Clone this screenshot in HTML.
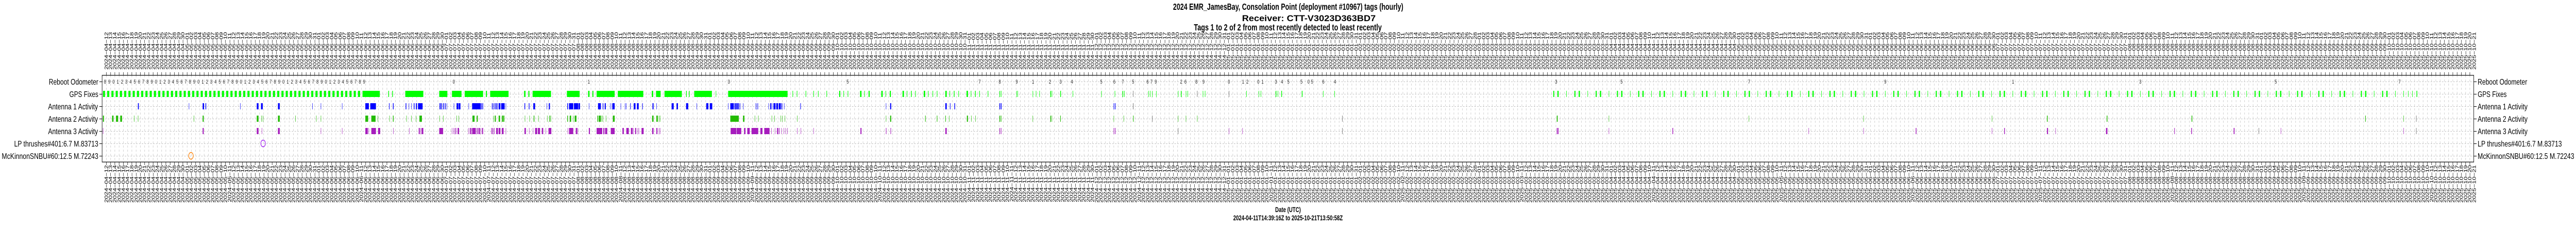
<!DOCTYPE html>
<html><head><meta charset="utf-8">
<style>
html,body{margin:0;padding:0;background:#fff;overflow:hidden;}
svg{position:fixed;left:0;top:0;width:100vw;height:100vh;display:block;}
.g rect{y:176px;height:12px;}
.a1 rect{y:200px;height:12px;}
.a2 rect{y:224px;height:12px;}
.a3 rect{y:248px;height:12px;}
</style></head><body>
<svg viewBox="0 0 7284 438" preserveAspectRatio="none" xmlns="http://www.w3.org/2000/svg">
<defs>
<pattern id="vg" patternUnits="userSpaceOnUse" x="300.2" y="146" width="12.02" height="8"><line x1="0.5" y1="0" x2="0.5" y2="4" stroke="#bebebe" stroke-width="1"/></pattern>
<pattern id="tk" patternUnits="userSpaceOnUse" x="300.2" y="0" width="12.02" height="438"><line x1="0.5" y1="0" x2="0.5" y2="438" stroke="#000" stroke-width="1"/></pattern>
<pattern id="pa" patternUnits="userSpaceOnUse" x="291" y="176" width="12.02" height="12"><rect x="0" y="0" width="6" height="12" fill="#00ff00"/></pattern>
<pattern id="pb" patternUnits="userSpaceOnUse" x="4512" y="176" width="60.1" height="12"><rect x="0" y="0" width="3" height="12" fill="#00ff00"/><rect x="12" y="0" width="3.5" height="12" fill="#00ff00"/><rect x="37" y="0" width="1.2" height="12" fill="#00ff00"/></pattern>
</defs>
<rect x="0" y="0" width="7284" height="438" fill="#fff"/>
<g font-family="Liberation Sans, sans-serif" font-weight="bold" font-size="18">
<text x="3317" y="19" textLength="651" lengthAdjust="spacingAndGlyphs">2024 EMR_JamesBay, Consolation Point (deployment #10967) tags (hourly)</text>
<text x="3512" y="41" font-size="17" textLength="378" lengthAdjust="spacingAndGlyphs">Receiver: CTT-V3023D363BD7</text>
<text x="3376" y="59" textLength="531" lengthAdjust="spacingAndGlyphs">Tags 1 to 2 of 2 from most recently detected to least recently</text>
</g>
<g font-family="Liberation Sans, sans-serif" font-weight="bold" font-size="14" text-anchor="middle">
<text x="3642" y="411">Date (UTC)</text>
<text x="3642" y="427">2024-04-11T14:39:16Z to 2025-10-21T13:50:58Z</text>
</g>
<rect x="288.7" y="146" width="6706.3" height="168" fill="url(#vg)"/>
<g stroke="#bebebe" stroke-dasharray="4 4" stroke-width="1">
<line x1="289" y1="158.5" x2="6995" y2="158.5"/>
<line x1="289" y1="182.5" x2="6995" y2="182.5"/>
<line x1="289" y1="206.5" x2="6995" y2="206.5"/>
<line x1="289" y1="230.5" x2="6995" y2="230.5"/>
<line x1="289" y1="254.5" x2="6995" y2="254.5"/>
<line x1="289" y1="278.5" x2="6995" y2="278.5"/>
<line x1="289" y1="302.5" x2="6995" y2="302.5"/>
</g>
<rect x="295" y="140" width="6695" height="6" fill="url(#tk)"/>
<rect x="295" y="314" width="6695" height="6" fill="url(#tk)"/>
<rect x="291" y="176" width="731" height="12" fill="url(#pa)"/>
<rect x="4392" y="176" width="2398" height="12" fill="url(#pb)"/>
<g class="g" fill="#00ff00">
<rect x="1025" width="49"/><rect x="1098" width="2"/><rect x="1109" width="2"/><rect x="1146" width="51"/><rect x="1242" width="23"/><rect x="1278" width="27"/><rect x="1314" width="52"/><rect x="1374" width="3"/><rect x="1386" width="52"/><rect x="1482" width="4"/><rect x="1494" width="3"/><rect x="1506" width="52"/><rect x="1603" width="36"/><rect x="1663" width="4"/><rect x="1675" width="3"/><rect x="1687" width="51"/><rect x="1747" width="72"/><rect x="1843" width="4"/><rect x="1855" width="13"/><rect x="1879" width="49"/><rect x="1940" width="2"/><rect x="1948" width="2"/><rect x="1963" width="50"/><rect x="2024" width="1.2"/><rect x="2059" width="168"/>
<rect x="2241" width="1.5"/><rect x="2253" width="1.5"/><rect x="2278" width="1.5"/><rect x="2300" width="1.5"/><rect x="2313" width="1.5"/><rect x="2337" width="1.5"/><rect x="2373" width="3"/><rect x="2385" width="1.5"/><rect x="2397" width="1.5"/>
<rect x="2432" width="4"/><rect x="2444" width="1.5"/><rect x="2456" width="3"/><rect x="2492" width="4"/><rect x="2504" width="1.5"/><rect x="2516" width="3"/><rect x="2552" width="4"/><rect x="2564" width="1.5"/><rect x="2576" width="2"/><rect x="2588" width="1.5"/><rect x="2612" width="4"/><rect x="2624" width="1.5"/><rect x="2637" width="1.5"/><rect x="2649" width="1.5"/><rect x="2673" width="4"/><rect x="2685" width="1.5"/><rect x="2697" width="2"/><rect x="2710" width="1.5"/><rect x="2733" width="4"/><rect x="2745" width="1.5"/><rect x="2757" width="2"/><rect x="2769" width="1.5"/><rect x="2793" width="1.5"/><rect x="2826" width="1.5"/><rect x="2830" width="1.5"/><rect x="2874" width="1.2"/><rect x="2877" width="1.2"/>
<rect x="2920" width="1.2"/><rect x="2929" width="1.2"/><rect x="2939" width="1.2"/><rect x="2970" width="2"/><rect x="2974" width="1.2"/><rect x="2998" width="2"/><rect x="3033" width="1.2"/><rect x="3114" width="1.2"/><rect x="3152" width="1.2"/><rect x="3174" width="2"/><rect x="3179" width="1.2"/><rect x="3247" width="1.2"/><rect x="3252" width="1.2"/><rect x="3258" width="1.2"/><rect x="3269" width="1.2"/><rect x="3331" width="1.2"/><rect x="3339" width="2"/><rect x="3353" width="1.2"/><rect x="3358" width="1.2"/><rect x="3401" width="1.2"/><rect x="3407" width="1.2"/><rect x="3524" width="1.2"/><rect x="3559" width="1.2"/><rect x="3565" width="1.2"/><rect x="3607" width="2"/><rect x="3613" width="1.2"/><rect x="3623" width="2"/><rect x="3681" width="2"/><rect x="3741" width="1.2"/><rect x="3773" width="1.2"/>
<rect x="6796" width="1.2"/><rect x="6809" width="1.2"/><rect x="6821" width="1.2"/><rect x="6833" width="2"/>
</g>
<g class="g" fill="#555"><rect x="3204" width="1"/><rect x="3385" width="1"/><rect x="3475" width="1"/></g>
<g class="a1" fill="#0000ff">
<rect x="390" width="2.5"/><rect x="534" width="1"/><rect x="573" width="4"/><rect x="581" width="2"/><rect x="679" width="1"/><rect x="726" width="5"/><rect x="738" width="5"/><rect x="786" width="5"/><rect x="883" width="1"/><rect x="907" width="1"/><rect x="967" width="1"/><rect x="1033" width="10"/><rect x="1047" width="16"/><rect x="1100" width="1.5"/><rect x="1111" width="2"/><rect x="1147" width="2"/><rect x="1156" width="1"/><rect x="1163" width="1"/><rect x="1170" width="2"/><rect x="1176" width="3"/><rect x="1182" width="13"/><rect x="1243" width="3"/><rect x="1248" width="2"/><rect x="1253" width="2"/><rect x="1258" width="2"/><rect x="1263" width="1"/><rect x="1283" width="1"/><rect x="1291" width="5"/><rect x="1297" width="5"/><rect x="1325" width="1"/><rect x="1335" width="24"/><rect x="1360" width="2"/><rect x="1364" width="2"/><rect x="1391" width="2"/><rect x="1396" width="2"/>
<rect x="1401" width="3"/><rect x="1406" width="1.5"/><rect x="1410" width="5"/><rect x="1417" width="10"/><rect x="1430" width="1"/><rect x="1483" width="2"/><rect x="1495" width="1"/><rect x="1497" width="1"/><rect x="1508" width="5"/><rect x="1546" width="1"/><rect x="1552" width="3"/><rect x="1604" width="2"/><rect x="1609" width="12"/><rect x="1623" width="12"/><rect x="1636" width="4"/><rect x="1665" width="1"/><rect x="1691" width="8"/><rect x="1703" width="1"/><rect x="1706" width="1"/><rect x="1710" width="3"/><rect x="1725" width="1"/><rect x="1730" width="1"/><rect x="1732" width="6"/><rect x="1755" width="1"/><rect x="1767" width="1"/><rect x="1770" width="1"/><rect x="1782" width="1.5"/><rect x="1792" width="5"/><rect x="1801" width="5"/><rect x="1816" width="1.5"/><rect x="1845" width="3"/><rect x="1856" width="1"/><rect x="1899" width="1"/>
<rect x="1900" width="5"/><rect x="1913" width="4"/><rect x="1940" width="6"/><rect x="1970" width="1"/><rect x="1997" width="6"/><rect x="2007" width="7"/><rect x="2059" width="1"/><rect x="2065" width="10"/><rect x="2077" width="3"/><rect x="2081" width="3"/><rect x="2085" width="3"/><rect x="2089" width="1.5"/><rect x="2093" width="1"/><rect x="2101" width="1"/><rect x="2137" width="1.5"/><rect x="2142" width="1.5"/><rect x="2173" width="1"/><rect x="2178" width="3"/><rect x="2183" width="1"/><rect x="2187" width="6"/><rect x="2195" width="5"/><rect x="2202" width="5"/><rect x="2208" width="2"/><rect x="2212" width="1"/><rect x="2217" width="1"/><rect x="2263" width="1.5"/><rect x="2505" width="1"/><rect x="2517" width="3"/><rect x="2673" width="4"/><rect x="2686" width="1.5"/><rect x="2698" width="1"/><rect x="2700" width="1"/><rect x="2826" width="2"/><rect x="2830" width="2"/><rect x="3149" width="1.5"/><rect x="3153" width="1.5"/>
</g>
<g class="a1" fill="#333"><rect x="3204" width="1"/></g>
<g class="a2" fill="#22bb00">
<rect x="291" width="3"/><rect x="317" width="4"/><rect x="328" width="6"/><rect x="340" width="5"/><rect x="379" width="1"/><rect x="390" width="1"/><rect x="548" width="1"/><rect x="573" width="3"/><rect x="726" width="5"/><rect x="739" width="1"/><rect x="743" width="1"/><rect x="786" width="5"/><rect x="835" width="1"/><rect x="894" width="1"/><rect x="907" width="1"/><rect x="1033" width="8"/><rect x="1050" width="12"/><rect x="1068" width="1"/><rect x="1101" width="1"/><rect x="1111" width="2"/><rect x="1149" width="1"/><rect x="1163" width="1"/><rect x="1176" width="1"/><rect x="1186" width="7"/><rect x="1243" width="1"/><rect x="1253" width="1"/><rect x="1291" width="1"/><rect x="1297" width="1"/><rect x="1336" width="6"/><rect x="1348" width="3"/><rect x="1395" width="1"/><rect x="1399" width="1"/><rect x="1400" width="2"/><rect x="1410" width="4"/><rect x="1419" width="3"/><rect x="1423" width="3"/><rect x="1484" width="1"/><rect x="1497" width="1"/><rect x="1509" width="2"/><rect x="1522" width="1"/><rect x="1547" width="1"/><rect x="1553" width="1"/><rect x="1555" width="1"/><rect x="1557" width="1"/><rect x="1604" width="2"/><rect x="1611" width="4"/><rect x="1620" width="1"/><rect x="1625" width="5"/><rect x="1689" width="2"/><rect x="1693" width="6"/><rect x="1701" width="1"/><rect x="1704" width="1"/><rect x="1713" width="1"/><rect x="1733" width="5"/><rect x="1844" width="4"/><rect x="1856" width="4"/><rect x="1863" width="1"/><rect x="1866" width="1"/>
<rect x="2065" width="24"/><rect x="2101" width="4"/><rect x="2134" width="1"/><rect x="2144" width="1"/><rect x="2182" width="1"/><rect x="2190" width="1"/><rect x="2207" width="1"/><rect x="2212" width="1"/><rect x="2219" width="1"/><rect x="2254" width="1"/><rect x="2505" width="1"/><rect x="2517" width="3"/><rect x="2616" width="1.5"/><rect x="2649" width="1.5"/><rect x="2673" width="1.5"/><rect x="2684" width="1"/><rect x="2734" width="3"/><rect x="2746" width="1"/><rect x="2758" width="1"/><rect x="2826" width="2"/><rect x="2830" width="1.5"/><rect x="2920" width="1"/><rect x="2970" width="2"/><rect x="2974" width="1"/><rect x="2998" width="1.5"/><rect x="3149" width="1"/><rect x="3177" width="1"/><rect x="3204" width="1.5"/><rect x="3331" width="1"/><rect x="3353" width="1"/><rect x="3385" width="1"/><rect x="4402" width="2.5"/><rect x="4549" width="1"/><rect x="4945" width="1"/><rect x="5269" width="1"/><rect x="5632" width="1"/><rect x="5788" width="2"/><rect x="5957" width="2"/><rect x="6197" width="2"/><rect x="6688" width="1.5"/><rect x="6796" width="1"/>
</g>
<g class="a2" fill="#555"><rect x="3258" width="1"/><rect x="3795" width="1"/><rect x="6832" width="1"/></g>
<g class="a3" fill="#a61cbd">
<rect x="291" width="1"/><rect x="573" width="3"/><rect x="726" width="5"/><rect x="740" width="1"/><rect x="786" width="5"/><rect x="907" width="1"/><rect x="967" width="1"/><rect x="1033" width="7"/><rect x="1042" width="1"/><rect x="1050" width="13"/><rect x="1069" width="6"/><rect x="1112" width="1"/><rect x="1157" width="1"/><rect x="1184" width="3"/><rect x="1189" width="1"/><rect x="1192" width="5"/><rect x="1242" width="11"/><rect x="1278" width="1"/><rect x="1282" width="1"/><rect x="1286" width="2"/><rect x="1290" width="1"/><rect x="1294" width="4"/><rect x="1324" width="1"/><rect x="1328" width="1"/><rect x="1330" width="3"/><rect x="1335" width="10"/><rect x="1346" width="1"/><rect x="1349" width="2"/><rect x="1353" width="4"/><rect x="1359" width="1"/><rect x="1363" width="3"/><rect x="1389" width="1"/><rect x="1391" width="2"/><rect x="1396" width="2"/>
<rect x="1403" width="5"/><rect x="1410" width="5"/><rect x="1419" width="5"/><rect x="1430" width="1"/><rect x="1483" width="4"/><rect x="1496" width="1"/><rect x="1507" width="1"/><rect x="1513" width="6"/><rect x="1521" width="6"/><rect x="1532" width="4"/><rect x="1543" width="1"/><rect x="1551" width="8"/><rect x="1605" width="1"/><rect x="1609" width="12"/><rect x="1628" width="4"/><rect x="1633" width="1"/><rect x="1665" width="3"/><rect x="1687" width="16"/><rect x="1706" width="3"/><rect x="1711" width="6"/><rect x="1727" width="11"/><rect x="1760" width="4"/><rect x="1771" width="7"/><rect x="1784" width="5"/><rect x="1791" width="1"/><rect x="1796" width="3"/><rect x="1803" width="1"/><rect x="1806" width="1"/><rect x="1814" width="6"/><rect x="1844" width="4"/><rect x="1856" width="3"/><rect x="1863" width="1"/><rect x="1866" width="1"/>
<rect x="2066" width="16"/><rect x="2083" width="13"/><rect x="2104" width="4"/><rect x="2113" width="7"/><rect x="2125" width="19"/><rect x="2150" width="6"/><rect x="2161" width="15"/><rect x="2181" width="1"/><rect x="2191" width="1"/><rect x="2197" width="3"/><rect x="2202" width="2"/><rect x="2209" width="1"/><rect x="2216" width="1"/><rect x="2221" width="1"/><rect x="2226" width="1"/><rect x="2254" width="1"/><rect x="2264" width="1"/><rect x="2300" width="1"/><rect x="2433" width="3"/><rect x="2505" width="1.5"/><rect x="2518" width="1.5"/><rect x="2673" width="4"/><rect x="2826" width="1.5"/><rect x="2830" width="1.5"/><rect x="3149" width="1.5"/><rect x="3153" width="1.5"/><rect x="3475" width="1"/><rect x="3513" width="1"/><rect x="4402" width="2"/><rect x="4405" width="2"/><rect x="4549" width="1"/><rect x="4729" width="2"/><rect x="5114" width="1"/><rect x="5269" width="1"/><rect x="5417" width="2"/><rect x="5632" width="1"/><rect x="5667" width="2"/><rect x="5788" width="3"/><rect x="5812" width="1"/><rect x="5955" width="4"/><rect x="6148" width="1.5"/><rect x="6196" width="2"/><rect x="6316" width="2.5"/><rect x="6449" width="1"/><rect x="6796" width="1"/>
</g>
<g class="a3" fill="#555"><rect x="3331" width="1"/><rect x="3795" width="1"/><rect x="6387" width="1"/><rect x="6832" width="1"/></g>
<ellipse cx="540" cy="302" rx="6.5" ry="6.5" fill="none" stroke="#ff7f00" stroke-width="1.5"/>
<ellipse cx="744" cy="278" rx="6.5" ry="6.5" fill="none" stroke="#a020f0" stroke-width="1.5"/>
<g font-family="Liberation Sans, sans-serif" font-size="11" fill="#222">
<text x="294" y="162" letter-spacing="5.9">89012345678901234567890123456789012345678901234567890123456789</text>
</g>
<g font-family="Liberation Sans, sans-serif" font-size="11" fill="#222" text-anchor="middle">
<text x="1283" y="162">0</text><text x="1665" y="162">1</text><text x="2061" y="162">3</text><text x="2397" y="162">5</text><text x="2770" y="162">7</text><text x="2827" y="162">8</text><text x="2875" y="162">9</text><text x="2921" y="162">1</text><text x="2969" y="162">2</text><text x="2999" y="162">3</text><text x="3031" y="162">4</text><text x="3114" y="162">5</text><text x="3151" y="162">6</text><text x="3175" y="162">7</text><text x="3204" y="162">5</text><text x="3245" y="162">6</text><text x="3256" y="162">7</text><text x="3268" y="162">9</text><text x="3340" y="162">2</text><text x="3352" y="162">6</text><text x="3383" y="162">8</text><text x="3403" y="162">9</text><text x="3475" y="162">0</text><text x="3515" y="162">1</text><text x="3527" y="162">2</text><text x="3558" y="162">0</text><text x="3570" y="162">1</text><text x="3608" y="162">3</text><text x="3625" y="162">4</text><text x="3643" y="162">5</text><text x="3680" y="162">5</text><text x="3700" y="162">0</text><text x="3710" y="162">5</text><text x="3742" y="162">6</text><text x="3775" y="162">4</text><text x="4400" y="162">3</text><text x="4585" y="162">5</text><text x="4946" y="162">7</text><text x="5331" y="162">9</text><text x="5692" y="162">1</text><text x="6052" y="162">3</text><text x="6435" y="162">5</text><text x="6785" y="162">7</text>
</g>
<rect x="288.7" y="146" width="6706.3" height="168" fill="none" stroke="#000" stroke-width="1.2"/>
<g stroke="#000" stroke-width="1">
<line x1="281" y1="158.5" x2="289" y2="158.5"/><line x1="281" y1="182.5" x2="289" y2="182.5"/><line x1="281" y1="206.5" x2="289" y2="206.5"/><line x1="281" y1="230.5" x2="289" y2="230.5"/><line x1="281" y1="254.5" x2="289" y2="254.5"/><line x1="281" y1="278.5" x2="289" y2="278.5"/><line x1="281" y1="302.5" x2="289" y2="302.5"/>
<line x1="6995" y1="158.5" x2="7003" y2="158.5"/><line x1="6995" y1="182.5" x2="7003" y2="182.5"/><line x1="6995" y1="206.5" x2="7003" y2="206.5"/><line x1="6995" y1="230.5" x2="7003" y2="230.5"/><line x1="6995" y1="254.5" x2="7003" y2="254.5"/><line x1="6995" y1="278.5" x2="7003" y2="278.5"/><line x1="6995" y1="302.5" x2="7003" y2="302.5"/>
</g>
<g font-family="Liberation Sans, sans-serif" font-size="16" fill="#000" text-anchor="end">
<text x="278" y="164" textLength="140" lengthAdjust="spacingAndGlyphs">Reboot Odometer</text>
<text x="278" y="188" textLength="82" lengthAdjust="spacingAndGlyphs">GPS Fixes</text>
<text x="277" y="212" textLength="141" lengthAdjust="spacingAndGlyphs">Antenna 1 Activity</text>
<text x="277" y="236" textLength="141" lengthAdjust="spacingAndGlyphs">Antenna 2 Activity</text>
<text x="277" y="260" textLength="141" lengthAdjust="spacingAndGlyphs">Antenna 3 Activity</text>
<text x="278" y="284" textLength="238" lengthAdjust="spacingAndGlyphs">LP thrushes#401:6.7 M.83713</text>
<text x="278" y="308" textLength="273" lengthAdjust="spacingAndGlyphs">McKinnonSNBU#60:12.5 M.72243</text>
</g>
<g font-family="Liberation Sans, sans-serif" font-size="16" fill="#000">
<text x="7006" y="164" textLength="140" lengthAdjust="spacingAndGlyphs">Reboot Odometer</text>
<text x="7006" y="188" textLength="82" lengthAdjust="spacingAndGlyphs">GPS Fixes</text>
<text x="7006" y="212" textLength="141" lengthAdjust="spacingAndGlyphs">Antenna 1 Activity</text>
<text x="7006" y="236" textLength="141" lengthAdjust="spacingAndGlyphs">Antenna 2 Activity</text>
<text x="7006" y="260" textLength="141" lengthAdjust="spacingAndGlyphs">Antenna 3 Activity</text>
<text x="7006" y="284" textLength="238" lengthAdjust="spacingAndGlyphs">LP thrushes#401:6.7 M.83713</text>
<text x="7006" y="308" textLength="273" lengthAdjust="spacingAndGlyphs">McKinnonSNBU#60:12.5 M.72243</text>
</g>
<g transform="rotate(-90)" font-family="Liberation Sans, sans-serif" font-size="13" fill="#000">
<text x="-135" y="293.18"><tspan x="-135" dy="12.02">2024−04−12</tspan><tspan x="-135" dy="12.02">2024−04−13</tspan><tspan x="-135" dy="12.02">2024−04−14</tspan><tspan x="-135" dy="12.02">2024−04−15</tspan><tspan x="-135" dy="12.02">2024−04−16</tspan><tspan x="-135" dy="12.02">2024−04−17</tspan><tspan x="-135" dy="12.02">2024−04−18</tspan><tspan x="-135" dy="12.02">2024−04−19</tspan><tspan x="-135" dy="12.02">2024−04−20</tspan><tspan x="-135" dy="12.02">2024−04−21</tspan><tspan x="-135" dy="12.02">2024−04−22</tspan><tspan x="-135" dy="12.02">2024−04−23</tspan><tspan x="-135" dy="12.02">2024−04−24</tspan><tspan x="-135" dy="12.02">2024−04−25</tspan><tspan x="-135" dy="12.02">2024−04−26</tspan><tspan x="-135" dy="12.02">2024−04−27</tspan><tspan x="-135" dy="12.02">2024−04−28</tspan><tspan x="-135" dy="12.02">2024−04−29</tspan><tspan x="-135" dy="12.02">2024−04−30</tspan><tspan x="-135" dy="12.02">2024−05−01</tspan><tspan x="-135" dy="12.02">2024−05−02</tspan><tspan x="-135" dy="12.02">2024−05−03</tspan><tspan x="-135" dy="12.02">2024−05−04</tspan><tspan x="-135" dy="12.02">2024−05−05</tspan><tspan x="-135" dy="12.02">2024−05−06</tspan><tspan x="-135" dy="12.02">2024−05−07</tspan><tspan x="-135" dy="12.02">2024−05−08</tspan><tspan x="-135" dy="12.02">2024−05−09</tspan><tspan x="-135" dy="12.02">2024−05−10</tspan><tspan x="-135" dy="12.02">2024−05−11</tspan><tspan x="-135" dy="12.02">2024−05−12</tspan><tspan x="-135" dy="12.02">2024−05−13</tspan><tspan x="-135" dy="12.02">2024−05−14</tspan><tspan x="-135" dy="12.02">2024−05−15</tspan><tspan x="-135" dy="12.02">2024−05−16</tspan><tspan x="-135" dy="12.02">2024−05−17</tspan><tspan x="-135" dy="12.02">2024−05−18</tspan><tspan x="-135" dy="12.02">2024−05−19</tspan><tspan x="-135" dy="12.02">2024−05−20</tspan><tspan x="-135" dy="12.02">2024−05−21</tspan><tspan x="-135" dy="12.02">2024−05−22</tspan><tspan x="-135" dy="12.02">2024−05−23</tspan><tspan x="-135" dy="12.02">2024−05−24</tspan><tspan x="-135" dy="12.02">2024−05−25</tspan><tspan x="-135" dy="12.02">2024−05−26</tspan><tspan x="-135" dy="12.02">2024−05−27</tspan><tspan x="-135" dy="12.02">2024−05−28</tspan><tspan x="-135" dy="12.02">2024−05−29</tspan><tspan x="-135" dy="12.02">2024−05−30</tspan><tspan x="-135" dy="12.02">2024−05−31</tspan><tspan x="-135" dy="12.02">2024−06−01</tspan><tspan x="-135" dy="12.02">2024−06−02</tspan><tspan x="-135" dy="12.02">2024−06−03</tspan><tspan x="-135" dy="12.02">2024−06−04</tspan><tspan x="-135" dy="12.02">2024−06−05</tspan><tspan x="-135" dy="12.02">2024−06−06</tspan><tspan x="-135" dy="12.02">2024−06−07</tspan><tspan x="-135" dy="12.02">2024−06−08</tspan><tspan x="-135" dy="12.02">2024−06−09</tspan><tspan x="-135" dy="12.02">2024−06−10</tspan><tspan x="-135" dy="12.02">2024−06−11</tspan><tspan x="-135" dy="12.02">2024−06−12</tspan><tspan x="-135" dy="12.02">2024−06−13</tspan><tspan x="-135" dy="12.02">2024−06−14</tspan><tspan x="-135" dy="12.02">2024−06−15</tspan><tspan x="-135" dy="12.02">2024−06−16</tspan><tspan x="-135" dy="12.02">2024−06−17</tspan><tspan x="-135" dy="12.02">2024−06−18</tspan><tspan x="-135" dy="12.02">2024−06−19</tspan><tspan x="-135" dy="12.02">2024−06−20</tspan><tspan x="-135" dy="12.02">2024−06−21</tspan><tspan x="-135" dy="12.02">2024−06−22</tspan><tspan x="-135" dy="12.02">2024−06−23</tspan><tspan x="-135" dy="12.02">2024−06−24</tspan><tspan x="-135" dy="12.02">2024−06−25</tspan><tspan x="-135" dy="12.02">2024−06−26</tspan><tspan x="-135" dy="12.02">2024−06−27</tspan><tspan x="-135" dy="12.02">2024−06−28</tspan><tspan x="-135" dy="12.02">2024−06−29</tspan><tspan x="-135" dy="12.02">2024−06−30</tspan><tspan x="-135" dy="12.02">2024−07−01</tspan><tspan x="-135" dy="12.02">2024−07−02</tspan><tspan x="-135" dy="12.02">2024−07−03</tspan><tspan x="-135" dy="12.02">2024−07−04</tspan><tspan x="-135" dy="12.02">2024−07−05</tspan><tspan x="-135" dy="12.02">2024−07−06</tspan><tspan x="-135" dy="12.02">2024−07−07</tspan><tspan x="-135" dy="12.02">2024−07−08</tspan><tspan x="-135" dy="12.02">2024−07−09</tspan><tspan x="-135" dy="12.02">2024−07−10</tspan><tspan x="-135" dy="12.02">2024−07−11</tspan><tspan x="-135" dy="12.02">2024−07−12</tspan><tspan x="-135" dy="12.02">2024−07−13</tspan><tspan x="-135" dy="12.02">2024−07−14</tspan><tspan x="-135" dy="12.02">2024−07−15</tspan><tspan x="-135" dy="12.02">2024−07−16</tspan><tspan x="-135" dy="12.02">2024−07−17</tspan><tspan x="-135" dy="12.02">2024−07−18</tspan><tspan x="-135" dy="12.02">2024−07−19</tspan><tspan x="-135" dy="12.02">2024−07−20</tspan><tspan x="-135" dy="12.02">2024−07−21</tspan><tspan x="-135" dy="12.02">2024−07−22</tspan><tspan x="-135" dy="12.02">2024−07−23</tspan><tspan x="-135" dy="12.02">2024−07−24</tspan><tspan x="-135" dy="12.02">2024−07−25</tspan><tspan x="-135" dy="12.02">2024−07−26</tspan><tspan x="-135" dy="12.02">2024−07−27</tspan><tspan x="-135" dy="12.02">2024−07−28</tspan><tspan x="-135" dy="12.02">2024−07−29</tspan><tspan x="-135" dy="12.02">2024−07−30</tspan><tspan x="-135" dy="12.02">2024−07−31</tspan><tspan x="-135" dy="12.02">2024−08−01</tspan><tspan x="-135" dy="12.02">2024−08−02</tspan><tspan x="-135" dy="12.02">2024−08−03</tspan><tspan x="-135" dy="12.02">2024−08−04</tspan><tspan x="-135" dy="12.02">2024−08−05</tspan><tspan x="-135" dy="12.02">2024−08−06</tspan><tspan x="-135" dy="12.02">2024−08−07</tspan><tspan x="-135" dy="12.02">2024−08−08</tspan><tspan x="-135" dy="12.02">2024−08−09</tspan><tspan x="-135" dy="12.02">2024−08−10</tspan><tspan x="-135" dy="12.02">2024−08−11</tspan><tspan x="-135" dy="12.02">2024−08−12</tspan><tspan x="-135" dy="12.02">2024−08−13</tspan><tspan x="-135" dy="12.02">2024−08−14</tspan><tspan x="-135" dy="12.02">2024−08−15</tspan><tspan x="-135" dy="12.02">2024−08−16</tspan><tspan x="-135" dy="12.02">2024−08−17</tspan><tspan x="-135" dy="12.02">2024−08−18</tspan><tspan x="-135" dy="12.02">2024−08−19</tspan><tspan x="-135" dy="12.02">2024−08−20</tspan><tspan x="-135" dy="12.02">2024−08−21</tspan><tspan x="-135" dy="12.02">2024−08−22</tspan><tspan x="-135" dy="12.02">2024−08−23</tspan><tspan x="-135" dy="12.02">2024−08−24</tspan><tspan x="-135" dy="12.02">2024−08−25</tspan><tspan x="-135" dy="12.02">2024−08−26</tspan><tspan x="-135" dy="12.02">2024−08−27</tspan><tspan x="-135" dy="12.02">2024−08−28</tspan><tspan x="-135" dy="12.02">2024−08−29</tspan><tspan x="-135" dy="12.02">2024−08−30</tspan><tspan x="-135" dy="12.02">2024−08−31</tspan><tspan x="-135" dy="12.02">2024−09−01</tspan><tspan x="-135" dy="12.02">2024−09−02</tspan><tspan x="-135" dy="12.02">2024−09−03</tspan><tspan x="-135" dy="12.02">2024−09−04</tspan><tspan x="-135" dy="12.02">2024−09−05</tspan><tspan x="-135" dy="12.02">2024−09−06</tspan><tspan x="-135" dy="12.02">2024−09−07</tspan><tspan x="-135" dy="12.02">2024−09−08</tspan><tspan x="-135" dy="12.02">2024−09−09</tspan><tspan x="-135" dy="12.02">2024−09−10</tspan><tspan x="-135" dy="12.02">2024−09−11</tspan><tspan x="-135" dy="12.02">2024−09−12</tspan><tspan x="-135" dy="12.02">2024−09−13</tspan><tspan x="-135" dy="12.02">2024−09−14</tspan><tspan x="-135" dy="12.02">2024−09−15</tspan><tspan x="-135" dy="12.02">2024−09−16</tspan><tspan x="-135" dy="12.02">2024−09−17</tspan><tspan x="-135" dy="12.02">2024−09−18</tspan><tspan x="-135" dy="12.02">2024−09−19</tspan><tspan x="-135" dy="12.02">2024−09−20</tspan><tspan x="-135" dy="12.02">2024−09−21</tspan><tspan x="-135" dy="12.02">2024−09−22</tspan><tspan x="-135" dy="12.02">2024−09−23</tspan><tspan x="-135" dy="12.02">2024−09−24</tspan><tspan x="-135" dy="12.02">2024−09−25</tspan><tspan x="-135" dy="12.02">2024−09−26</tspan><tspan x="-135" dy="12.02">2024−09−27</tspan><tspan x="-135" dy="12.02">2024−09−28</tspan><tspan x="-135" dy="12.02">2024−09−29</tspan><tspan x="-135" dy="12.02">2024−09−30</tspan><tspan x="-135" dy="12.02">2024−10−01</tspan><tspan x="-135" dy="12.02">2024−10−02</tspan><tspan x="-135" dy="12.02">2024−10−03</tspan><tspan x="-135" dy="12.02">2024−10−04</tspan><tspan x="-135" dy="12.02">2024−10−05</tspan><tspan x="-135" dy="12.02">2024−10−06</tspan><tspan x="-135" dy="12.02">2024−10−07</tspan><tspan x="-135" dy="12.02">2024−10−08</tspan><tspan x="-135" dy="12.02">2024−10−09</tspan><tspan x="-135" dy="12.02">2024−10−10</tspan><tspan x="-135" dy="12.02">2024−10−11</tspan><tspan x="-135" dy="12.02">2024−10−12</tspan><tspan x="-135" dy="12.02">2024−10−13</tspan><tspan x="-135" dy="12.02">2024−10−14</tspan><tspan x="-135" dy="12.02">2024−10−15</tspan><tspan x="-135" dy="12.02">2024−10−16</tspan><tspan x="-135" dy="12.02">2024−10−17</tspan><tspan x="-135" dy="12.02">2024−10−18</tspan><tspan x="-135" dy="12.02">2024−10−19</tspan><tspan x="-135" dy="12.02">2024−10−20</tspan><tspan x="-135" dy="12.02">2024−10−21</tspan><tspan x="-135" dy="12.02">2024−10−22</tspan><tspan x="-135" dy="12.02">2024−10−23</tspan><tspan x="-135" dy="12.02">2024−10−24</tspan><tspan x="-135" dy="12.02">2024−10−25</tspan><tspan x="-135" dy="12.02">2024−10−26</tspan><tspan x="-135" dy="12.02">2024−10−27</tspan><tspan x="-135" dy="12.02">2024−10−28</tspan><tspan x="-135" dy="12.02">2024−10−29</tspan><tspan x="-135" dy="12.02">2024−10−30</tspan><tspan x="-135" dy="12.02">2024−10−31</tspan><tspan x="-135" dy="12.02">2024−11−01</tspan><tspan x="-135" dy="12.02">2024−11−02</tspan><tspan x="-135" dy="12.02">2024−11−03</tspan><tspan x="-135" dy="12.02">2024−11−04</tspan><tspan x="-135" dy="12.02">2024−11−05</tspan><tspan x="-135" dy="12.02">2024−11−06</tspan><tspan x="-135" dy="12.02">2024−11−07</tspan><tspan x="-135" dy="12.02">2024−11−08</tspan><tspan x="-135" dy="12.02">2024−11−09</tspan><tspan x="-135" dy="12.02">2024−11−10</tspan><tspan x="-135" dy="12.02">2024−11−11</tspan><tspan x="-135" dy="12.02">2024−11−12</tspan><tspan x="-135" dy="12.02">2024−11−13</tspan><tspan x="-135" dy="12.02">2024−11−14</tspan><tspan x="-135" dy="12.02">2024−11−15</tspan><tspan x="-135" dy="12.02">2024−11−16</tspan><tspan x="-135" dy="12.02">2024−11−17</tspan><tspan x="-135" dy="12.02">2024−11−18</tspan><tspan x="-135" dy="12.02">2024−11−19</tspan><tspan x="-135" dy="12.02">2024−11−20</tspan><tspan x="-135" dy="12.02">2024−11−21</tspan><tspan x="-135" dy="12.02">2024−11−22</tspan><tspan x="-135" dy="12.02">2024−11−23</tspan><tspan x="-135" dy="12.02">2024−11−24</tspan><tspan x="-135" dy="12.02">2024−11−25</tspan><tspan x="-135" dy="12.02">2024−11−26</tspan><tspan x="-135" dy="12.02">2024−11−27</tspan><tspan x="-135" dy="12.02">2024−11−28</tspan><tspan x="-135" dy="12.02">2024−11−29</tspan><tspan x="-135" dy="12.02">2024−11−30</tspan><tspan x="-135" dy="12.02">2024−12−01</tspan><tspan x="-135" dy="12.02">2024−12−02</tspan><tspan x="-135" dy="12.02">2024−12−03</tspan><tspan x="-135" dy="12.02">2024−12−04</tspan><tspan x="-135" dy="12.02">2024−12−05</tspan><tspan x="-135" dy="12.02">2024−12−06</tspan><tspan x="-135" dy="12.02">2024−12−07</tspan><tspan x="-135" dy="12.02">2024−12−08</tspan><tspan x="-135" dy="12.02">2024−12−09</tspan><tspan x="-135" dy="12.02">2024−12−10</tspan><tspan x="-135" dy="12.02">2024−12−11</tspan><tspan x="-135" dy="12.02">2024−12−12</tspan><tspan x="-135" dy="12.02">2024−12−13</tspan><tspan x="-135" dy="12.02">2024−12−14</tspan><tspan x="-135" dy="12.02">2024−12−15</tspan><tspan x="-135" dy="12.02">2024−12−16</tspan><tspan x="-135" dy="12.02">2024−12−17</tspan><tspan x="-135" dy="12.02">2024−12−18</tspan><tspan x="-135" dy="12.02">2024−12−19</tspan><tspan x="-135" dy="12.02">2024−12−20</tspan><tspan x="-135" dy="12.02">2024−12−21</tspan><tspan x="-135" dy="12.02">2024−12−22</tspan><tspan x="-135" dy="12.02">2024−12−23</tspan><tspan x="-135" dy="12.02">2024−12−24</tspan><tspan x="-135" dy="12.02">2024−12−25</tspan><tspan x="-135" dy="12.02">2024−12−26</tspan><tspan x="-135" dy="12.02">2024−12−27</tspan><tspan x="-135" dy="12.02">2024−12−28</tspan><tspan x="-135" dy="12.02">2024−12−29</tspan><tspan x="-135" dy="12.02">2024−12−30</tspan><tspan x="-135" dy="12.02">2024−12−31</tspan><tspan x="-135" dy="12.02">2025−01−01</tspan><tspan x="-135" dy="12.02">2025−01−02</tspan><tspan x="-135" dy="12.02">2025−01−03</tspan><tspan x="-135" dy="12.02">2025−01−04</tspan><tspan x="-135" dy="12.02">2025−01−05</tspan><tspan x="-135" dy="12.02">2025−01−06</tspan><tspan x="-135" dy="12.02">2025−01−07</tspan><tspan x="-135" dy="12.02">2025−01−08</tspan><tspan x="-135" dy="12.02">2025−01−09</tspan><tspan x="-135" dy="12.02">2025−01−10</tspan><tspan x="-135" dy="12.02">2025−01−11</tspan><tspan x="-135" dy="12.02">2025−01−12</tspan><tspan x="-135" dy="12.02">2025−01−13</tspan><tspan x="-135" dy="12.02">2025−01−14</tspan><tspan x="-135" dy="12.02">2025−01−15</tspan><tspan x="-135" dy="12.02">2025−01−16</tspan><tspan x="-135" dy="12.02">2025−01−17</tspan><tspan x="-135" dy="12.02">2025−01−18</tspan><tspan x="-135" dy="12.02">2025−01−19</tspan><tspan x="-135" dy="12.02">2025−01−20</tspan><tspan x="-135" dy="12.02">2025−01−21</tspan><tspan x="-135" dy="12.02">2025−01−22</tspan><tspan x="-135" dy="12.02">2025−01−23</tspan><tspan x="-135" dy="12.02">2025−01−24</tspan><tspan x="-135" dy="12.02">2025−01−25</tspan><tspan x="-135" dy="12.02">2025−01−26</tspan><tspan x="-135" dy="12.02">2025−01−27</tspan><tspan x="-135" dy="12.02">2025−01−28</tspan><tspan x="-135" dy="12.02">2025−01−29</tspan><tspan x="-135" dy="12.02">2025−01−30</tspan><tspan x="-135" dy="12.02">2025−01−31</tspan><tspan x="-135" dy="12.02">2025−02−01</tspan><tspan x="-135" dy="12.02">2025−02−02</tspan><tspan x="-135" dy="12.02">2025−02−03</tspan><tspan x="-135" dy="12.02">2025−02−04</tspan><tspan x="-135" dy="12.02">2025−02−05</tspan><tspan x="-135" dy="12.02">2025−02−06</tspan><tspan x="-135" dy="12.02">2025−02−07</tspan><tspan x="-135" dy="12.02">2025−02−08</tspan><tspan x="-135" dy="12.02">2025−02−09</tspan><tspan x="-135" dy="12.02">2025−02−10</tspan><tspan x="-135" dy="12.02">2025−02−11</tspan><tspan x="-135" dy="12.02">2025−02−12</tspan><tspan x="-135" dy="12.02">2025−02−13</tspan><tspan x="-135" dy="12.02">2025−02−14</tspan><tspan x="-135" dy="12.02">2025−02−15</tspan><tspan x="-135" dy="12.02">2025−02−16</tspan><tspan x="-135" dy="12.02">2025−02−17</tspan><tspan x="-135" dy="12.02">2025−02−18</tspan><tspan x="-135" dy="12.02">2025−02−19</tspan><tspan x="-135" dy="12.02">2025−02−20</tspan><tspan x="-135" dy="12.02">2025−02−21</tspan><tspan x="-135" dy="12.02">2025−02−22</tspan><tspan x="-135" dy="12.02">2025−02−23</tspan><tspan x="-135" dy="12.02">2025−02−24</tspan><tspan x="-135" dy="12.02">2025−02−25</tspan><tspan x="-135" dy="12.02">2025−02−26</tspan><tspan x="-135" dy="12.02">2025−02−27</tspan><tspan x="-135" dy="12.02">2025−02−28</tspan><tspan x="-135" dy="12.02">2025−03−01</tspan><tspan x="-135" dy="12.02">2025−03−02</tspan><tspan x="-135" dy="12.02">2025−03−03</tspan><tspan x="-135" dy="12.02">2025−03−04</tspan><tspan x="-135" dy="12.02">2025−03−05</tspan><tspan x="-135" dy="12.02">2025−03−06</tspan><tspan x="-135" dy="12.02">2025−03−07</tspan><tspan x="-135" dy="12.02">2025−03−08</tspan><tspan x="-135" dy="12.02">2025−03−09</tspan><tspan x="-135" dy="12.02">2025−03−10</tspan><tspan x="-135" dy="12.02">2025−03−11</tspan><tspan x="-135" dy="12.02">2025−03−12</tspan><tspan x="-135" dy="12.02">2025−03−13</tspan><tspan x="-135" dy="12.02">2025−03−14</tspan><tspan x="-135" dy="12.02">2025−03−15</tspan><tspan x="-135" dy="12.02">2025−03−16</tspan><tspan x="-135" dy="12.02">2025−03−17</tspan><tspan x="-135" dy="12.02">2025−03−18</tspan><tspan x="-135" dy="12.02">2025−03−19</tspan><tspan x="-135" dy="12.02">2025−03−20</tspan><tspan x="-135" dy="12.02">2025−03−21</tspan><tspan x="-135" dy="12.02">2025−03−22</tspan><tspan x="-135" dy="12.02">2025−03−23</tspan><tspan x="-135" dy="12.02">2025−03−24</tspan><tspan x="-135" dy="12.02">2025−03−25</tspan><tspan x="-135" dy="12.02">2025−03−26</tspan><tspan x="-135" dy="12.02">2025−03−27</tspan><tspan x="-135" dy="12.02">2025−03−28</tspan><tspan x="-135" dy="12.02">2025−03−29</tspan><tspan x="-135" dy="12.02">2025−03−30</tspan><tspan x="-135" dy="12.02">2025−03−31</tspan><tspan x="-135" dy="12.02">2025−04−01</tspan><tspan x="-135" dy="12.02">2025−04−02</tspan><tspan x="-135" dy="12.02">2025−04−03</tspan><tspan x="-135" dy="12.02">2025−04−04</tspan><tspan x="-135" dy="12.02">2025−04−05</tspan><tspan x="-135" dy="12.02">2025−04−06</tspan><tspan x="-135" dy="12.02">2025−04−07</tspan><tspan x="-135" dy="12.02">2025−04−08</tspan><tspan x="-135" dy="12.02">2025−04−09</tspan><tspan x="-135" dy="12.02">2025−04−10</tspan><tspan x="-135" dy="12.02">2025−04−11</tspan><tspan x="-135" dy="12.02">2025−04−12</tspan><tspan x="-135" dy="12.02">2025−04−13</tspan><tspan x="-135" dy="12.02">2025−04−14</tspan><tspan x="-135" dy="12.02">2025−04−15</tspan><tspan x="-135" dy="12.02">2025−04−16</tspan><tspan x="-135" dy="12.02">2025−04−17</tspan><tspan x="-135" dy="12.02">2025−04−18</tspan><tspan x="-135" dy="12.02">2025−04−19</tspan><tspan x="-135" dy="12.02">2025−04−20</tspan><tspan x="-135" dy="12.02">2025−04−21</tspan><tspan x="-135" dy="12.02">2025−04−22</tspan><tspan x="-135" dy="12.02">2025−04−23</tspan><tspan x="-135" dy="12.02">2025−04−24</tspan><tspan x="-135" dy="12.02">2025−04−25</tspan><tspan x="-135" dy="12.02">2025−04−26</tspan><tspan x="-135" dy="12.02">2025−04−27</tspan><tspan x="-135" dy="12.02">2025−04−28</tspan><tspan x="-135" dy="12.02">2025−04−29</tspan><tspan x="-135" dy="12.02">2025−04−30</tspan><tspan x="-135" dy="12.02">2025−05−01</tspan><tspan x="-135" dy="12.02">2025−05−02</tspan><tspan x="-135" dy="12.02">2025−05−03</tspan><tspan x="-135" dy="12.02">2025−05−04</tspan><tspan x="-135" dy="12.02">2025−05−05</tspan><tspan x="-135" dy="12.02">2025−05−06</tspan><tspan x="-135" dy="12.02">2025−05−07</tspan><tspan x="-135" dy="12.02">2025−05−08</tspan><tspan x="-135" dy="12.02">2025−05−09</tspan><tspan x="-135" dy="12.02">2025−05−10</tspan><tspan x="-135" dy="12.02">2025−05−11</tspan><tspan x="-135" dy="12.02">2025−05−12</tspan><tspan x="-135" dy="12.02">2025−05−13</tspan><tspan x="-135" dy="12.02">2025−05−14</tspan><tspan x="-135" dy="12.02">2025−05−15</tspan><tspan x="-135" dy="12.02">2025−05−16</tspan><tspan x="-135" dy="12.02">2025−05−17</tspan><tspan x="-135" dy="12.02">2025−05−18</tspan><tspan x="-135" dy="12.02">2025−05−19</tspan><tspan x="-135" dy="12.02">2025−05−20</tspan><tspan x="-135" dy="12.02">2025−05−21</tspan><tspan x="-135" dy="12.02">2025−05−22</tspan><tspan x="-135" dy="12.02">2025−05−23</tspan><tspan x="-135" dy="12.02">2025−05−24</tspan><tspan x="-135" dy="12.02">2025−05−25</tspan><tspan x="-135" dy="12.02">2025−05−26</tspan><tspan x="-135" dy="12.02">2025−05−27</tspan><tspan x="-135" dy="12.02">2025−05−28</tspan><tspan x="-135" dy="12.02">2025−05−29</tspan><tspan x="-135" dy="12.02">2025−05−30</tspan><tspan x="-135" dy="12.02">2025−05−31</tspan><tspan x="-135" dy="12.02">2025−06−01</tspan><tspan x="-135" dy="12.02">2025−06−02</tspan><tspan x="-135" dy="12.02">2025−06−03</tspan><tspan x="-135" dy="12.02">2025−06−04</tspan><tspan x="-135" dy="12.02">2025−06−05</tspan><tspan x="-135" dy="12.02">2025−06−06</tspan><tspan x="-135" dy="12.02">2025−06−07</tspan><tspan x="-135" dy="12.02">2025−06−08</tspan><tspan x="-135" dy="12.02">2025−06−09</tspan><tspan x="-135" dy="12.02">2025−06−10</tspan><tspan x="-135" dy="12.02">2025−06−11</tspan><tspan x="-135" dy="12.02">2025−06−12</tspan><tspan x="-135" dy="12.02">2025−06−13</tspan><tspan x="-135" dy="12.02">2025−06−14</tspan><tspan x="-135" dy="12.02">2025−06−15</tspan><tspan x="-135" dy="12.02">2025−06−16</tspan><tspan x="-135" dy="12.02">2025−06−17</tspan><tspan x="-135" dy="12.02">2025−06−18</tspan><tspan x="-135" dy="12.02">2025−06−19</tspan><tspan x="-135" dy="12.02">2025−06−20</tspan><tspan x="-135" dy="12.02">2025−06−21</tspan><tspan x="-135" dy="12.02">2025−06−22</tspan><tspan x="-135" dy="12.02">2025−06−23</tspan><tspan x="-135" dy="12.02">2025−06−24</tspan><tspan x="-135" dy="12.02">2025−06−25</tspan><tspan x="-135" dy="12.02">2025−06−26</tspan><tspan x="-135" dy="12.02">2025−06−27</tspan><tspan x="-135" dy="12.02">2025−06−28</tspan><tspan x="-135" dy="12.02">2025−06−29</tspan><tspan x="-135" dy="12.02">2025−06−30</tspan><tspan x="-135" dy="12.02">2025−07−01</tspan><tspan x="-135" dy="12.02">2025−07−02</tspan><tspan x="-135" dy="12.02">2025−07−03</tspan><tspan x="-135" dy="12.02">2025−07−04</tspan><tspan x="-135" dy="12.02">2025−07−05</tspan><tspan x="-135" dy="12.02">2025−07−06</tspan><tspan x="-135" dy="12.02">2025−07−07</tspan><tspan x="-135" dy="12.02">2025−07−08</tspan><tspan x="-135" dy="12.02">2025−07−09</tspan><tspan x="-135" dy="12.02">2025−07−10</tspan><tspan x="-135" dy="12.02">2025−07−11</tspan><tspan x="-135" dy="12.02">2025−07−12</tspan><tspan x="-135" dy="12.02">2025−07−13</tspan><tspan x="-135" dy="12.02">2025−07−14</tspan><tspan x="-135" dy="12.02">2025−07−15</tspan><tspan x="-135" dy="12.02">2025−07−16</tspan><tspan x="-135" dy="12.02">2025−07−17</tspan><tspan x="-135" dy="12.02">2025−07−18</tspan><tspan x="-135" dy="12.02">2025−07−19</tspan><tspan x="-135" dy="12.02">2025−07−20</tspan><tspan x="-135" dy="12.02">2025−07−21</tspan><tspan x="-135" dy="12.02">2025−07−22</tspan><tspan x="-135" dy="12.02">2025−07−23</tspan><tspan x="-135" dy="12.02">2025−07−24</tspan><tspan x="-135" dy="12.02">2025−07−25</tspan><tspan x="-135" dy="12.02">2025−07−26</tspan><tspan x="-135" dy="12.02">2025−07−27</tspan><tspan x="-135" dy="12.02">2025−07−28</tspan><tspan x="-135" dy="12.02">2025−07−29</tspan><tspan x="-135" dy="12.02">2025−07−30</tspan><tspan x="-135" dy="12.02">2025−07−31</tspan><tspan x="-135" dy="12.02">2025−08−01</tspan><tspan x="-135" dy="12.02">2025−08−02</tspan><tspan x="-135" dy="12.02">2025−08−03</tspan><tspan x="-135" dy="12.02">2025−08−04</tspan><tspan x="-135" dy="12.02">2025−08−05</tspan><tspan x="-135" dy="12.02">2025−08−06</tspan><tspan x="-135" dy="12.02">2025−08−07</tspan><tspan x="-135" dy="12.02">2025−08−08</tspan><tspan x="-135" dy="12.02">2025−08−09</tspan><tspan x="-135" dy="12.02">2025−08−10</tspan><tspan x="-135" dy="12.02">2025−08−11</tspan><tspan x="-135" dy="12.02">2025−08−12</tspan><tspan x="-135" dy="12.02">2025−08−13</tspan><tspan x="-135" dy="12.02">2025−08−14</tspan><tspan x="-135" dy="12.02">2025−08−15</tspan><tspan x="-135" dy="12.02">2025−08−16</tspan><tspan x="-135" dy="12.02">2025−08−17</tspan><tspan x="-135" dy="12.02">2025−08−18</tspan><tspan x="-135" dy="12.02">2025−08−19</tspan><tspan x="-135" dy="12.02">2025−08−20</tspan><tspan x="-135" dy="12.02">2025−08−21</tspan><tspan x="-135" dy="12.02">2025−08−22</tspan><tspan x="-135" dy="12.02">2025−08−23</tspan><tspan x="-135" dy="12.02">2025−08−24</tspan><tspan x="-135" dy="12.02">2025−08−25</tspan><tspan x="-135" dy="12.02">2025−08−26</tspan><tspan x="-135" dy="12.02">2025−08−27</tspan><tspan x="-135" dy="12.02">2025−08−28</tspan><tspan x="-135" dy="12.02">2025−08−29</tspan><tspan x="-135" dy="12.02">2025−08−30</tspan><tspan x="-135" dy="12.02">2025−08−31</tspan><tspan x="-135" dy="12.02">2025−09−01</tspan><tspan x="-135" dy="12.02">2025−09−02</tspan><tspan x="-135" dy="12.02">2025−09−03</tspan><tspan x="-135" dy="12.02">2025−09−04</tspan><tspan x="-135" dy="12.02">2025−09−05</tspan><tspan x="-135" dy="12.02">2025−09−06</tspan><tspan x="-135" dy="12.02">2025−09−07</tspan><tspan x="-135" dy="12.02">2025−09−08</tspan><tspan x="-135" dy="12.02">2025−09−09</tspan><tspan x="-135" dy="12.02">2025−09−10</tspan><tspan x="-135" dy="12.02">2025−09−11</tspan><tspan x="-135" dy="12.02">2025−09−12</tspan><tspan x="-135" dy="12.02">2025−09−13</tspan><tspan x="-135" dy="12.02">2025−09−14</tspan><tspan x="-135" dy="12.02">2025−09−15</tspan><tspan x="-135" dy="12.02">2025−09−16</tspan><tspan x="-135" dy="12.02">2025−09−17</tspan><tspan x="-135" dy="12.02">2025−09−18</tspan><tspan x="-135" dy="12.02">2025−09−19</tspan><tspan x="-135" dy="12.02">2025−09−20</tspan><tspan x="-135" dy="12.02">2025−09−21</tspan><tspan x="-135" dy="12.02">2025−09−22</tspan><tspan x="-135" dy="12.02">2025−09−23</tspan><tspan x="-135" dy="12.02">2025−09−24</tspan><tspan x="-135" dy="12.02">2025−09−25</tspan><tspan x="-135" dy="12.02">2025−09−26</tspan><tspan x="-135" dy="12.02">2025−09−27</tspan><tspan x="-135" dy="12.02">2025−09−28</tspan><tspan x="-135" dy="12.02">2025−09−29</tspan><tspan x="-135" dy="12.02">2025−09−30</tspan><tspan x="-135" dy="12.02">2025−10−01</tspan><tspan x="-135" dy="12.02">2025−10−02</tspan><tspan x="-135" dy="12.02">2025−10−03</tspan><tspan x="-135" dy="12.02">2025−10−04</tspan><tspan x="-135" dy="12.02">2025−10−05</tspan><tspan x="-135" dy="12.02">2025−10−06</tspan><tspan x="-135" dy="12.02">2025−10−07</tspan><tspan x="-135" dy="12.02">2025−10−08</tspan><tspan x="-135" dy="12.02">2025−10−09</tspan><tspan x="-135" dy="12.02">2025−10−10</tspan><tspan x="-135" dy="12.02">2025−10−11</tspan><tspan x="-135" dy="12.02">2025−10−12</tspan><tspan x="-135" dy="12.02">2025−10−13</tspan><tspan x="-135" dy="12.02">2025−10−14</tspan><tspan x="-135" dy="12.02">2025−10−15</tspan><tspan x="-135" dy="12.02">2025−10−16</tspan><tspan x="-135" dy="12.02">2025−10−17</tspan><tspan x="-135" dy="12.02">2025−10−18</tspan><tspan x="-135" dy="12.02">2025−10−19</tspan><tspan x="-135" dy="12.02">2025−10−20</tspan><tspan x="-135" dy="12.02">2025−10−21</tspan></text>
<text x="-320" y="293.18" text-anchor="end"><tspan x="-320" dy="12.02">2024−04−12</tspan><tspan x="-320" dy="12.02">2024−04−13</tspan><tspan x="-320" dy="12.02">2024−04−14</tspan><tspan x="-320" dy="12.02">2024−04−15</tspan><tspan x="-320" dy="12.02">2024−04−16</tspan><tspan x="-320" dy="12.02">2024−04−17</tspan><tspan x="-320" dy="12.02">2024−04−18</tspan><tspan x="-320" dy="12.02">2024−04−19</tspan><tspan x="-320" dy="12.02">2024−04−20</tspan><tspan x="-320" dy="12.02">2024−04−21</tspan><tspan x="-320" dy="12.02">2024−04−22</tspan><tspan x="-320" dy="12.02">2024−04−23</tspan><tspan x="-320" dy="12.02">2024−04−24</tspan><tspan x="-320" dy="12.02">2024−04−25</tspan><tspan x="-320" dy="12.02">2024−04−26</tspan><tspan x="-320" dy="12.02">2024−04−27</tspan><tspan x="-320" dy="12.02">2024−04−28</tspan><tspan x="-320" dy="12.02">2024−04−29</tspan><tspan x="-320" dy="12.02">2024−04−30</tspan><tspan x="-320" dy="12.02">2024−05−01</tspan><tspan x="-320" dy="12.02">2024−05−02</tspan><tspan x="-320" dy="12.02">2024−05−03</tspan><tspan x="-320" dy="12.02">2024−05−04</tspan><tspan x="-320" dy="12.02">2024−05−05</tspan><tspan x="-320" dy="12.02">2024−05−06</tspan><tspan x="-320" dy="12.02">2024−05−07</tspan><tspan x="-320" dy="12.02">2024−05−08</tspan><tspan x="-320" dy="12.02">2024−05−09</tspan><tspan x="-320" dy="12.02">2024−05−10</tspan><tspan x="-320" dy="12.02">2024−05−11</tspan><tspan x="-320" dy="12.02">2024−05−12</tspan><tspan x="-320" dy="12.02">2024−05−13</tspan><tspan x="-320" dy="12.02">2024−05−14</tspan><tspan x="-320" dy="12.02">2024−05−15</tspan><tspan x="-320" dy="12.02">2024−05−16</tspan><tspan x="-320" dy="12.02">2024−05−17</tspan><tspan x="-320" dy="12.02">2024−05−18</tspan><tspan x="-320" dy="12.02">2024−05−19</tspan><tspan x="-320" dy="12.02">2024−05−20</tspan><tspan x="-320" dy="12.02">2024−05−21</tspan><tspan x="-320" dy="12.02">2024−05−22</tspan><tspan x="-320" dy="12.02">2024−05−23</tspan><tspan x="-320" dy="12.02">2024−05−24</tspan><tspan x="-320" dy="12.02">2024−05−25</tspan><tspan x="-320" dy="12.02">2024−05−26</tspan><tspan x="-320" dy="12.02">2024−05−27</tspan><tspan x="-320" dy="12.02">2024−05−28</tspan><tspan x="-320" dy="12.02">2024−05−29</tspan><tspan x="-320" dy="12.02">2024−05−30</tspan><tspan x="-320" dy="12.02">2024−05−31</tspan><tspan x="-320" dy="12.02">2024−06−01</tspan><tspan x="-320" dy="12.02">2024−06−02</tspan><tspan x="-320" dy="12.02">2024−06−03</tspan><tspan x="-320" dy="12.02">2024−06−04</tspan><tspan x="-320" dy="12.02">2024−06−05</tspan><tspan x="-320" dy="12.02">2024−06−06</tspan><tspan x="-320" dy="12.02">2024−06−07</tspan><tspan x="-320" dy="12.02">2024−06−08</tspan><tspan x="-320" dy="12.02">2024−06−09</tspan><tspan x="-320" dy="12.02">2024−06−10</tspan><tspan x="-320" dy="12.02">2024−06−11</tspan><tspan x="-320" dy="12.02">2024−06−12</tspan><tspan x="-320" dy="12.02">2024−06−13</tspan><tspan x="-320" dy="12.02">2024−06−14</tspan><tspan x="-320" dy="12.02">2024−06−15</tspan><tspan x="-320" dy="12.02">2024−06−16</tspan><tspan x="-320" dy="12.02">2024−06−17</tspan><tspan x="-320" dy="12.02">2024−06−18</tspan><tspan x="-320" dy="12.02">2024−06−19</tspan><tspan x="-320" dy="12.02">2024−06−20</tspan><tspan x="-320" dy="12.02">2024−06−21</tspan><tspan x="-320" dy="12.02">2024−06−22</tspan><tspan x="-320" dy="12.02">2024−06−23</tspan><tspan x="-320" dy="12.02">2024−06−24</tspan><tspan x="-320" dy="12.02">2024−06−25</tspan><tspan x="-320" dy="12.02">2024−06−26</tspan><tspan x="-320" dy="12.02">2024−06−27</tspan><tspan x="-320" dy="12.02">2024−06−28</tspan><tspan x="-320" dy="12.02">2024−06−29</tspan><tspan x="-320" dy="12.02">2024−06−30</tspan><tspan x="-320" dy="12.02">2024−07−01</tspan><tspan x="-320" dy="12.02">2024−07−02</tspan><tspan x="-320" dy="12.02">2024−07−03</tspan><tspan x="-320" dy="12.02">2024−07−04</tspan><tspan x="-320" dy="12.02">2024−07−05</tspan><tspan x="-320" dy="12.02">2024−07−06</tspan><tspan x="-320" dy="12.02">2024−07−07</tspan><tspan x="-320" dy="12.02">2024−07−08</tspan><tspan x="-320" dy="12.02">2024−07−09</tspan><tspan x="-320" dy="12.02">2024−07−10</tspan><tspan x="-320" dy="12.02">2024−07−11</tspan><tspan x="-320" dy="12.02">2024−07−12</tspan><tspan x="-320" dy="12.02">2024−07−13</tspan><tspan x="-320" dy="12.02">2024−07−14</tspan><tspan x="-320" dy="12.02">2024−07−15</tspan><tspan x="-320" dy="12.02">2024−07−16</tspan><tspan x="-320" dy="12.02">2024−07−17</tspan><tspan x="-320" dy="12.02">2024−07−18</tspan><tspan x="-320" dy="12.02">2024−07−19</tspan><tspan x="-320" dy="12.02">2024−07−20</tspan><tspan x="-320" dy="12.02">2024−07−21</tspan><tspan x="-320" dy="12.02">2024−07−22</tspan><tspan x="-320" dy="12.02">2024−07−23</tspan><tspan x="-320" dy="12.02">2024−07−24</tspan><tspan x="-320" dy="12.02">2024−07−25</tspan><tspan x="-320" dy="12.02">2024−07−26</tspan><tspan x="-320" dy="12.02">2024−07−27</tspan><tspan x="-320" dy="12.02">2024−07−28</tspan><tspan x="-320" dy="12.02">2024−07−29</tspan><tspan x="-320" dy="12.02">2024−07−30</tspan><tspan x="-320" dy="12.02">2024−07−31</tspan><tspan x="-320" dy="12.02">2024−08−01</tspan><tspan x="-320" dy="12.02">2024−08−02</tspan><tspan x="-320" dy="12.02">2024−08−03</tspan><tspan x="-320" dy="12.02">2024−08−04</tspan><tspan x="-320" dy="12.02">2024−08−05</tspan><tspan x="-320" dy="12.02">2024−08−06</tspan><tspan x="-320" dy="12.02">2024−08−07</tspan><tspan x="-320" dy="12.02">2024−08−08</tspan><tspan x="-320" dy="12.02">2024−08−09</tspan><tspan x="-320" dy="12.02">2024−08−10</tspan><tspan x="-320" dy="12.02">2024−08−11</tspan><tspan x="-320" dy="12.02">2024−08−12</tspan><tspan x="-320" dy="12.02">2024−08−13</tspan><tspan x="-320" dy="12.02">2024−08−14</tspan><tspan x="-320" dy="12.02">2024−08−15</tspan><tspan x="-320" dy="12.02">2024−08−16</tspan><tspan x="-320" dy="12.02">2024−08−17</tspan><tspan x="-320" dy="12.02">2024−08−18</tspan><tspan x="-320" dy="12.02">2024−08−19</tspan><tspan x="-320" dy="12.02">2024−08−20</tspan><tspan x="-320" dy="12.02">2024−08−21</tspan><tspan x="-320" dy="12.02">2024−08−22</tspan><tspan x="-320" dy="12.02">2024−08−23</tspan><tspan x="-320" dy="12.02">2024−08−24</tspan><tspan x="-320" dy="12.02">2024−08−25</tspan><tspan x="-320" dy="12.02">2024−08−26</tspan><tspan x="-320" dy="12.02">2024−08−27</tspan><tspan x="-320" dy="12.02">2024−08−28</tspan><tspan x="-320" dy="12.02">2024−08−29</tspan><tspan x="-320" dy="12.02">2024−08−30</tspan><tspan x="-320" dy="12.02">2024−08−31</tspan><tspan x="-320" dy="12.02">2024−09−01</tspan><tspan x="-320" dy="12.02">2024−09−02</tspan><tspan x="-320" dy="12.02">2024−09−03</tspan><tspan x="-320" dy="12.02">2024−09−04</tspan><tspan x="-320" dy="12.02">2024−09−05</tspan><tspan x="-320" dy="12.02">2024−09−06</tspan><tspan x="-320" dy="12.02">2024−09−07</tspan><tspan x="-320" dy="12.02">2024−09−08</tspan><tspan x="-320" dy="12.02">2024−09−09</tspan><tspan x="-320" dy="12.02">2024−09−10</tspan><tspan x="-320" dy="12.02">2024−09−11</tspan><tspan x="-320" dy="12.02">2024−09−12</tspan><tspan x="-320" dy="12.02">2024−09−13</tspan><tspan x="-320" dy="12.02">2024−09−14</tspan><tspan x="-320" dy="12.02">2024−09−15</tspan><tspan x="-320" dy="12.02">2024−09−16</tspan><tspan x="-320" dy="12.02">2024−09−17</tspan><tspan x="-320" dy="12.02">2024−09−18</tspan><tspan x="-320" dy="12.02">2024−09−19</tspan><tspan x="-320" dy="12.02">2024−09−20</tspan><tspan x="-320" dy="12.02">2024−09−21</tspan><tspan x="-320" dy="12.02">2024−09−22</tspan><tspan x="-320" dy="12.02">2024−09−23</tspan><tspan x="-320" dy="12.02">2024−09−24</tspan><tspan x="-320" dy="12.02">2024−09−25</tspan><tspan x="-320" dy="12.02">2024−09−26</tspan><tspan x="-320" dy="12.02">2024−09−27</tspan><tspan x="-320" dy="12.02">2024−09−28</tspan><tspan x="-320" dy="12.02">2024−09−29</tspan><tspan x="-320" dy="12.02">2024−09−30</tspan><tspan x="-320" dy="12.02">2024−10−01</tspan><tspan x="-320" dy="12.02">2024−10−02</tspan><tspan x="-320" dy="12.02">2024−10−03</tspan><tspan x="-320" dy="12.02">2024−10−04</tspan><tspan x="-320" dy="12.02">2024−10−05</tspan><tspan x="-320" dy="12.02">2024−10−06</tspan><tspan x="-320" dy="12.02">2024−10−07</tspan><tspan x="-320" dy="12.02">2024−10−08</tspan><tspan x="-320" dy="12.02">2024−10−09</tspan><tspan x="-320" dy="12.02">2024−10−10</tspan><tspan x="-320" dy="12.02">2024−10−11</tspan><tspan x="-320" dy="12.02">2024−10−12</tspan><tspan x="-320" dy="12.02">2024−10−13</tspan><tspan x="-320" dy="12.02">2024−10−14</tspan><tspan x="-320" dy="12.02">2024−10−15</tspan><tspan x="-320" dy="12.02">2024−10−16</tspan><tspan x="-320" dy="12.02">2024−10−17</tspan><tspan x="-320" dy="12.02">2024−10−18</tspan><tspan x="-320" dy="12.02">2024−10−19</tspan><tspan x="-320" dy="12.02">2024−10−20</tspan><tspan x="-320" dy="12.02">2024−10−21</tspan><tspan x="-320" dy="12.02">2024−10−22</tspan><tspan x="-320" dy="12.02">2024−10−23</tspan><tspan x="-320" dy="12.02">2024−10−24</tspan><tspan x="-320" dy="12.02">2024−10−25</tspan><tspan x="-320" dy="12.02">2024−10−26</tspan><tspan x="-320" dy="12.02">2024−10−27</tspan><tspan x="-320" dy="12.02">2024−10−28</tspan><tspan x="-320" dy="12.02">2024−10−29</tspan><tspan x="-320" dy="12.02">2024−10−30</tspan><tspan x="-320" dy="12.02">2024−10−31</tspan><tspan x="-320" dy="12.02">2024−11−01</tspan><tspan x="-320" dy="12.02">2024−11−02</tspan><tspan x="-320" dy="12.02">2024−11−03</tspan><tspan x="-320" dy="12.02">2024−11−04</tspan><tspan x="-320" dy="12.02">2024−11−05</tspan><tspan x="-320" dy="12.02">2024−11−06</tspan><tspan x="-320" dy="12.02">2024−11−07</tspan><tspan x="-320" dy="12.02">2024−11−08</tspan><tspan x="-320" dy="12.02">2024−11−09</tspan><tspan x="-320" dy="12.02">2024−11−10</tspan><tspan x="-320" dy="12.02">2024−11−11</tspan><tspan x="-320" dy="12.02">2024−11−12</tspan><tspan x="-320" dy="12.02">2024−11−13</tspan><tspan x="-320" dy="12.02">2024−11−14</tspan><tspan x="-320" dy="12.02">2024−11−15</tspan><tspan x="-320" dy="12.02">2024−11−16</tspan><tspan x="-320" dy="12.02">2024−11−17</tspan><tspan x="-320" dy="12.02">2024−11−18</tspan><tspan x="-320" dy="12.02">2024−11−19</tspan><tspan x="-320" dy="12.02">2024−11−20</tspan><tspan x="-320" dy="12.02">2024−11−21</tspan><tspan x="-320" dy="12.02">2024−11−22</tspan><tspan x="-320" dy="12.02">2024−11−23</tspan><tspan x="-320" dy="12.02">2024−11−24</tspan><tspan x="-320" dy="12.02">2024−11−25</tspan><tspan x="-320" dy="12.02">2024−11−26</tspan><tspan x="-320" dy="12.02">2024−11−27</tspan><tspan x="-320" dy="12.02">2024−11−28</tspan><tspan x="-320" dy="12.02">2024−11−29</tspan><tspan x="-320" dy="12.02">2024−11−30</tspan><tspan x="-320" dy="12.02">2024−12−01</tspan><tspan x="-320" dy="12.02">2024−12−02</tspan><tspan x="-320" dy="12.02">2024−12−03</tspan><tspan x="-320" dy="12.02">2024−12−04</tspan><tspan x="-320" dy="12.02">2024−12−05</tspan><tspan x="-320" dy="12.02">2024−12−06</tspan><tspan x="-320" dy="12.02">2024−12−07</tspan><tspan x="-320" dy="12.02">2024−12−08</tspan><tspan x="-320" dy="12.02">2024−12−09</tspan><tspan x="-320" dy="12.02">2024−12−10</tspan><tspan x="-320" dy="12.02">2024−12−11</tspan><tspan x="-320" dy="12.02">2024−12−12</tspan><tspan x="-320" dy="12.02">2024−12−13</tspan><tspan x="-320" dy="12.02">2024−12−14</tspan><tspan x="-320" dy="12.02">2024−12−15</tspan><tspan x="-320" dy="12.02">2024−12−16</tspan><tspan x="-320" dy="12.02">2024−12−17</tspan><tspan x="-320" dy="12.02">2024−12−18</tspan><tspan x="-320" dy="12.02">2024−12−19</tspan><tspan x="-320" dy="12.02">2024−12−20</tspan><tspan x="-320" dy="12.02">2024−12−21</tspan><tspan x="-320" dy="12.02">2024−12−22</tspan><tspan x="-320" dy="12.02">2024−12−23</tspan><tspan x="-320" dy="12.02">2024−12−24</tspan><tspan x="-320" dy="12.02">2024−12−25</tspan><tspan x="-320" dy="12.02">2024−12−26</tspan><tspan x="-320" dy="12.02">2024−12−27</tspan><tspan x="-320" dy="12.02">2024−12−28</tspan><tspan x="-320" dy="12.02">2024−12−29</tspan><tspan x="-320" dy="12.02">2024−12−30</tspan><tspan x="-320" dy="12.02">2024−12−31</tspan><tspan x="-320" dy="12.02">2025−01−01</tspan><tspan x="-320" dy="12.02">2025−01−02</tspan><tspan x="-320" dy="12.02">2025−01−03</tspan><tspan x="-320" dy="12.02">2025−01−04</tspan><tspan x="-320" dy="12.02">2025−01−05</tspan><tspan x="-320" dy="12.02">2025−01−06</tspan><tspan x="-320" dy="12.02">2025−01−07</tspan><tspan x="-320" dy="12.02">2025−01−08</tspan><tspan x="-320" dy="12.02">2025−01−09</tspan><tspan x="-320" dy="12.02">2025−01−10</tspan><tspan x="-320" dy="12.02">2025−01−11</tspan><tspan x="-320" dy="12.02">2025−01−12</tspan><tspan x="-320" dy="12.02">2025−01−13</tspan><tspan x="-320" dy="12.02">2025−01−14</tspan><tspan x="-320" dy="12.02">2025−01−15</tspan><tspan x="-320" dy="12.02">2025−01−16</tspan><tspan x="-320" dy="12.02">2025−01−17</tspan><tspan x="-320" dy="12.02">2025−01−18</tspan><tspan x="-320" dy="12.02">2025−01−19</tspan><tspan x="-320" dy="12.02">2025−01−20</tspan><tspan x="-320" dy="12.02">2025−01−21</tspan><tspan x="-320" dy="12.02">2025−01−22</tspan><tspan x="-320" dy="12.02">2025−01−23</tspan><tspan x="-320" dy="12.02">2025−01−24</tspan><tspan x="-320" dy="12.02">2025−01−25</tspan><tspan x="-320" dy="12.02">2025−01−26</tspan><tspan x="-320" dy="12.02">2025−01−27</tspan><tspan x="-320" dy="12.02">2025−01−28</tspan><tspan x="-320" dy="12.02">2025−01−29</tspan><tspan x="-320" dy="12.02">2025−01−30</tspan><tspan x="-320" dy="12.02">2025−01−31</tspan><tspan x="-320" dy="12.02">2025−02−01</tspan><tspan x="-320" dy="12.02">2025−02−02</tspan><tspan x="-320" dy="12.02">2025−02−03</tspan><tspan x="-320" dy="12.02">2025−02−04</tspan><tspan x="-320" dy="12.02">2025−02−05</tspan><tspan x="-320" dy="12.02">2025−02−06</tspan><tspan x="-320" dy="12.02">2025−02−07</tspan><tspan x="-320" dy="12.02">2025−02−08</tspan><tspan x="-320" dy="12.02">2025−02−09</tspan><tspan x="-320" dy="12.02">2025−02−10</tspan><tspan x="-320" dy="12.02">2025−02−11</tspan><tspan x="-320" dy="12.02">2025−02−12</tspan><tspan x="-320" dy="12.02">2025−02−13</tspan><tspan x="-320" dy="12.02">2025−02−14</tspan><tspan x="-320" dy="12.02">2025−02−15</tspan><tspan x="-320" dy="12.02">2025−02−16</tspan><tspan x="-320" dy="12.02">2025−02−17</tspan><tspan x="-320" dy="12.02">2025−02−18</tspan><tspan x="-320" dy="12.02">2025−02−19</tspan><tspan x="-320" dy="12.02">2025−02−20</tspan><tspan x="-320" dy="12.02">2025−02−21</tspan><tspan x="-320" dy="12.02">2025−02−22</tspan><tspan x="-320" dy="12.02">2025−02−23</tspan><tspan x="-320" dy="12.02">2025−02−24</tspan><tspan x="-320" dy="12.02">2025−02−25</tspan><tspan x="-320" dy="12.02">2025−02−26</tspan><tspan x="-320" dy="12.02">2025−02−27</tspan><tspan x="-320" dy="12.02">2025−02−28</tspan><tspan x="-320" dy="12.02">2025−03−01</tspan><tspan x="-320" dy="12.02">2025−03−02</tspan><tspan x="-320" dy="12.02">2025−03−03</tspan><tspan x="-320" dy="12.02">2025−03−04</tspan><tspan x="-320" dy="12.02">2025−03−05</tspan><tspan x="-320" dy="12.02">2025−03−06</tspan><tspan x="-320" dy="12.02">2025−03−07</tspan><tspan x="-320" dy="12.02">2025−03−08</tspan><tspan x="-320" dy="12.02">2025−03−09</tspan><tspan x="-320" dy="12.02">2025−03−10</tspan><tspan x="-320" dy="12.02">2025−03−11</tspan><tspan x="-320" dy="12.02">2025−03−12</tspan><tspan x="-320" dy="12.02">2025−03−13</tspan><tspan x="-320" dy="12.02">2025−03−14</tspan><tspan x="-320" dy="12.02">2025−03−15</tspan><tspan x="-320" dy="12.02">2025−03−16</tspan><tspan x="-320" dy="12.02">2025−03−17</tspan><tspan x="-320" dy="12.02">2025−03−18</tspan><tspan x="-320" dy="12.02">2025−03−19</tspan><tspan x="-320" dy="12.02">2025−03−20</tspan><tspan x="-320" dy="12.02">2025−03−21</tspan><tspan x="-320" dy="12.02">2025−03−22</tspan><tspan x="-320" dy="12.02">2025−03−23</tspan><tspan x="-320" dy="12.02">2025−03−24</tspan><tspan x="-320" dy="12.02">2025−03−25</tspan><tspan x="-320" dy="12.02">2025−03−26</tspan><tspan x="-320" dy="12.02">2025−03−27</tspan><tspan x="-320" dy="12.02">2025−03−28</tspan><tspan x="-320" dy="12.02">2025−03−29</tspan><tspan x="-320" dy="12.02">2025−03−30</tspan><tspan x="-320" dy="12.02">2025−03−31</tspan><tspan x="-320" dy="12.02">2025−04−01</tspan><tspan x="-320" dy="12.02">2025−04−02</tspan><tspan x="-320" dy="12.02">2025−04−03</tspan><tspan x="-320" dy="12.02">2025−04−04</tspan><tspan x="-320" dy="12.02">2025−04−05</tspan><tspan x="-320" dy="12.02">2025−04−06</tspan><tspan x="-320" dy="12.02">2025−04−07</tspan><tspan x="-320" dy="12.02">2025−04−08</tspan><tspan x="-320" dy="12.02">2025−04−09</tspan><tspan x="-320" dy="12.02">2025−04−10</tspan><tspan x="-320" dy="12.02">2025−04−11</tspan><tspan x="-320" dy="12.02">2025−04−12</tspan><tspan x="-320" dy="12.02">2025−04−13</tspan><tspan x="-320" dy="12.02">2025−04−14</tspan><tspan x="-320" dy="12.02">2025−04−15</tspan><tspan x="-320" dy="12.02">2025−04−16</tspan><tspan x="-320" dy="12.02">2025−04−17</tspan><tspan x="-320" dy="12.02">2025−04−18</tspan><tspan x="-320" dy="12.02">2025−04−19</tspan><tspan x="-320" dy="12.02">2025−04−20</tspan><tspan x="-320" dy="12.02">2025−04−21</tspan><tspan x="-320" dy="12.02">2025−04−22</tspan><tspan x="-320" dy="12.02">2025−04−23</tspan><tspan x="-320" dy="12.02">2025−04−24</tspan><tspan x="-320" dy="12.02">2025−04−25</tspan><tspan x="-320" dy="12.02">2025−04−26</tspan><tspan x="-320" dy="12.02">2025−04−27</tspan><tspan x="-320" dy="12.02">2025−04−28</tspan><tspan x="-320" dy="12.02">2025−04−29</tspan><tspan x="-320" dy="12.02">2025−04−30</tspan><tspan x="-320" dy="12.02">2025−05−01</tspan><tspan x="-320" dy="12.02">2025−05−02</tspan><tspan x="-320" dy="12.02">2025−05−03</tspan><tspan x="-320" dy="12.02">2025−05−04</tspan><tspan x="-320" dy="12.02">2025−05−05</tspan><tspan x="-320" dy="12.02">2025−05−06</tspan><tspan x="-320" dy="12.02">2025−05−07</tspan><tspan x="-320" dy="12.02">2025−05−08</tspan><tspan x="-320" dy="12.02">2025−05−09</tspan><tspan x="-320" dy="12.02">2025−05−10</tspan><tspan x="-320" dy="12.02">2025−05−11</tspan><tspan x="-320" dy="12.02">2025−05−12</tspan><tspan x="-320" dy="12.02">2025−05−13</tspan><tspan x="-320" dy="12.02">2025−05−14</tspan><tspan x="-320" dy="12.02">2025−05−15</tspan><tspan x="-320" dy="12.02">2025−05−16</tspan><tspan x="-320" dy="12.02">2025−05−17</tspan><tspan x="-320" dy="12.02">2025−05−18</tspan><tspan x="-320" dy="12.02">2025−05−19</tspan><tspan x="-320" dy="12.02">2025−05−20</tspan><tspan x="-320" dy="12.02">2025−05−21</tspan><tspan x="-320" dy="12.02">2025−05−22</tspan><tspan x="-320" dy="12.02">2025−05−23</tspan><tspan x="-320" dy="12.02">2025−05−24</tspan><tspan x="-320" dy="12.02">2025−05−25</tspan><tspan x="-320" dy="12.02">2025−05−26</tspan><tspan x="-320" dy="12.02">2025−05−27</tspan><tspan x="-320" dy="12.02">2025−05−28</tspan><tspan x="-320" dy="12.02">2025−05−29</tspan><tspan x="-320" dy="12.02">2025−05−30</tspan><tspan x="-320" dy="12.02">2025−05−31</tspan><tspan x="-320" dy="12.02">2025−06−01</tspan><tspan x="-320" dy="12.02">2025−06−02</tspan><tspan x="-320" dy="12.02">2025−06−03</tspan><tspan x="-320" dy="12.02">2025−06−04</tspan><tspan x="-320" dy="12.02">2025−06−05</tspan><tspan x="-320" dy="12.02">2025−06−06</tspan><tspan x="-320" dy="12.02">2025−06−07</tspan><tspan x="-320" dy="12.02">2025−06−08</tspan><tspan x="-320" dy="12.02">2025−06−09</tspan><tspan x="-320" dy="12.02">2025−06−10</tspan><tspan x="-320" dy="12.02">2025−06−11</tspan><tspan x="-320" dy="12.02">2025−06−12</tspan><tspan x="-320" dy="12.02">2025−06−13</tspan><tspan x="-320" dy="12.02">2025−06−14</tspan><tspan x="-320" dy="12.02">2025−06−15</tspan><tspan x="-320" dy="12.02">2025−06−16</tspan><tspan x="-320" dy="12.02">2025−06−17</tspan><tspan x="-320" dy="12.02">2025−06−18</tspan><tspan x="-320" dy="12.02">2025−06−19</tspan><tspan x="-320" dy="12.02">2025−06−20</tspan><tspan x="-320" dy="12.02">2025−06−21</tspan><tspan x="-320" dy="12.02">2025−06−22</tspan><tspan x="-320" dy="12.02">2025−06−23</tspan><tspan x="-320" dy="12.02">2025−06−24</tspan><tspan x="-320" dy="12.02">2025−06−25</tspan><tspan x="-320" dy="12.02">2025−06−26</tspan><tspan x="-320" dy="12.02">2025−06−27</tspan><tspan x="-320" dy="12.02">2025−06−28</tspan><tspan x="-320" dy="12.02">2025−06−29</tspan><tspan x="-320" dy="12.02">2025−06−30</tspan><tspan x="-320" dy="12.02">2025−07−01</tspan><tspan x="-320" dy="12.02">2025−07−02</tspan><tspan x="-320" dy="12.02">2025−07−03</tspan><tspan x="-320" dy="12.02">2025−07−04</tspan><tspan x="-320" dy="12.02">2025−07−05</tspan><tspan x="-320" dy="12.02">2025−07−06</tspan><tspan x="-320" dy="12.02">2025−07−07</tspan><tspan x="-320" dy="12.02">2025−07−08</tspan><tspan x="-320" dy="12.02">2025−07−09</tspan><tspan x="-320" dy="12.02">2025−07−10</tspan><tspan x="-320" dy="12.02">2025−07−11</tspan><tspan x="-320" dy="12.02">2025−07−12</tspan><tspan x="-320" dy="12.02">2025−07−13</tspan><tspan x="-320" dy="12.02">2025−07−14</tspan><tspan x="-320" dy="12.02">2025−07−15</tspan><tspan x="-320" dy="12.02">2025−07−16</tspan><tspan x="-320" dy="12.02">2025−07−17</tspan><tspan x="-320" dy="12.02">2025−07−18</tspan><tspan x="-320" dy="12.02">2025−07−19</tspan><tspan x="-320" dy="12.02">2025−07−20</tspan><tspan x="-320" dy="12.02">2025−07−21</tspan><tspan x="-320" dy="12.02">2025−07−22</tspan><tspan x="-320" dy="12.02">2025−07−23</tspan><tspan x="-320" dy="12.02">2025−07−24</tspan><tspan x="-320" dy="12.02">2025−07−25</tspan><tspan x="-320" dy="12.02">2025−07−26</tspan><tspan x="-320" dy="12.02">2025−07−27</tspan><tspan x="-320" dy="12.02">2025−07−28</tspan><tspan x="-320" dy="12.02">2025−07−29</tspan><tspan x="-320" dy="12.02">2025−07−30</tspan><tspan x="-320" dy="12.02">2025−07−31</tspan><tspan x="-320" dy="12.02">2025−08−01</tspan><tspan x="-320" dy="12.02">2025−08−02</tspan><tspan x="-320" dy="12.02">2025−08−03</tspan><tspan x="-320" dy="12.02">2025−08−04</tspan><tspan x="-320" dy="12.02">2025−08−05</tspan><tspan x="-320" dy="12.02">2025−08−06</tspan><tspan x="-320" dy="12.02">2025−08−07</tspan><tspan x="-320" dy="12.02">2025−08−08</tspan><tspan x="-320" dy="12.02">2025−08−09</tspan><tspan x="-320" dy="12.02">2025−08−10</tspan><tspan x="-320" dy="12.02">2025−08−11</tspan><tspan x="-320" dy="12.02">2025−08−12</tspan><tspan x="-320" dy="12.02">2025−08−13</tspan><tspan x="-320" dy="12.02">2025−08−14</tspan><tspan x="-320" dy="12.02">2025−08−15</tspan><tspan x="-320" dy="12.02">2025−08−16</tspan><tspan x="-320" dy="12.02">2025−08−17</tspan><tspan x="-320" dy="12.02">2025−08−18</tspan><tspan x="-320" dy="12.02">2025−08−19</tspan><tspan x="-320" dy="12.02">2025−08−20</tspan><tspan x="-320" dy="12.02">2025−08−21</tspan><tspan x="-320" dy="12.02">2025−08−22</tspan><tspan x="-320" dy="12.02">2025−08−23</tspan><tspan x="-320" dy="12.02">2025−08−24</tspan><tspan x="-320" dy="12.02">2025−08−25</tspan><tspan x="-320" dy="12.02">2025−08−26</tspan><tspan x="-320" dy="12.02">2025−08−27</tspan><tspan x="-320" dy="12.02">2025−08−28</tspan><tspan x="-320" dy="12.02">2025−08−29</tspan><tspan x="-320" dy="12.02">2025−08−30</tspan><tspan x="-320" dy="12.02">2025−08−31</tspan><tspan x="-320" dy="12.02">2025−09−01</tspan><tspan x="-320" dy="12.02">2025−09−02</tspan><tspan x="-320" dy="12.02">2025−09−03</tspan><tspan x="-320" dy="12.02">2025−09−04</tspan><tspan x="-320" dy="12.02">2025−09−05</tspan><tspan x="-320" dy="12.02">2025−09−06</tspan><tspan x="-320" dy="12.02">2025−09−07</tspan><tspan x="-320" dy="12.02">2025−09−08</tspan><tspan x="-320" dy="12.02">2025−09−09</tspan><tspan x="-320" dy="12.02">2025−09−10</tspan><tspan x="-320" dy="12.02">2025−09−11</tspan><tspan x="-320" dy="12.02">2025−09−12</tspan><tspan x="-320" dy="12.02">2025−09−13</tspan><tspan x="-320" dy="12.02">2025−09−14</tspan><tspan x="-320" dy="12.02">2025−09−15</tspan><tspan x="-320" dy="12.02">2025−09−16</tspan><tspan x="-320" dy="12.02">2025−09−17</tspan><tspan x="-320" dy="12.02">2025−09−18</tspan><tspan x="-320" dy="12.02">2025−09−19</tspan><tspan x="-320" dy="12.02">2025−09−20</tspan><tspan x="-320" dy="12.02">2025−09−21</tspan><tspan x="-320" dy="12.02">2025−09−22</tspan><tspan x="-320" dy="12.02">2025−09−23</tspan><tspan x="-320" dy="12.02">2025−09−24</tspan><tspan x="-320" dy="12.02">2025−09−25</tspan><tspan x="-320" dy="12.02">2025−09−26</tspan><tspan x="-320" dy="12.02">2025−09−27</tspan><tspan x="-320" dy="12.02">2025−09−28</tspan><tspan x="-320" dy="12.02">2025−09−29</tspan><tspan x="-320" dy="12.02">2025−09−30</tspan><tspan x="-320" dy="12.02">2025−10−01</tspan><tspan x="-320" dy="12.02">2025−10−02</tspan><tspan x="-320" dy="12.02">2025−10−03</tspan><tspan x="-320" dy="12.02">2025−10−04</tspan><tspan x="-320" dy="12.02">2025−10−05</tspan><tspan x="-320" dy="12.02">2025−10−06</tspan><tspan x="-320" dy="12.02">2025−10−07</tspan><tspan x="-320" dy="12.02">2025−10−08</tspan><tspan x="-320" dy="12.02">2025−10−09</tspan><tspan x="-320" dy="12.02">2025−10−10</tspan><tspan x="-320" dy="12.02">2025−10−11</tspan><tspan x="-320" dy="12.02">2025−10−12</tspan><tspan x="-320" dy="12.02">2025−10−13</tspan><tspan x="-320" dy="12.02">2025−10−14</tspan><tspan x="-320" dy="12.02">2025−10−15</tspan><tspan x="-320" dy="12.02">2025−10−16</tspan><tspan x="-320" dy="12.02">2025−10−17</tspan><tspan x="-320" dy="12.02">2025−10−18</tspan><tspan x="-320" dy="12.02">2025−10−19</tspan><tspan x="-320" dy="12.02">2025−10−20</tspan><tspan x="-320" dy="12.02">2025−10−21</tspan></text>
</g>
</svg>
</body></html>
